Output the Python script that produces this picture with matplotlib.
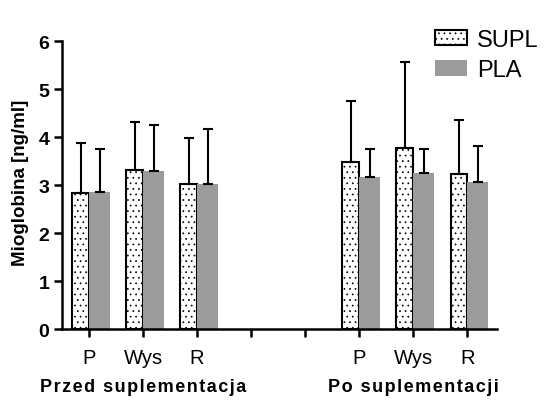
import matplotlib.pyplot as plt
import numpy as np

plt.rcParams['font.family'] = ['Liberation Sans', 'DejaVu Sans']
plt.rcParams['hatch.linewidth'] = 0.5

# category ticks (gap positions 3 and 4 are empty)
tick_labels = ['P', 'Wys', 'R', '', '', 'P', 'Wys', 'R']
positions = [0, 1, 2, 5, 6, 7]

supl_mean = [2.83, 3.31, 3.02, 3.47, 3.77, 3.23]
supl_err = [1.05, 1.00, 0.96, 1.27, 1.79, 1.13]
pla_mean = [2.86, 3.29, 3.02, 3.16, 3.25, 3.07]
pla_err = [0.89, 0.97, 1.15, 0.59, 0.50, 0.75]

groups = ['Przed suplementacja', 'Po suplementacji']
group_centers = [1, 6]


def spaced(s):
    # the reference uses loose letter spacing
    return '\u200a'.join(s)


fig = plt.figure(figsize=(5.47, 4.02), dpi=100)
ax = fig.add_axes([0.1133, 0.179, 0.7953, 0.7165])

x = np.array(positions, dtype=float)
w_s = 0.31
w_p = 0.39
ax.bar(x - w_s / 2, supl_mean, width=w_s, color='white', edgecolor='black',
       hatch='...', linewidth=1.5, label='SUPL', zorder=2)
ax.bar(x + w_p / 2, pla_mean, width=w_p, color='#9b9b9d', edgecolor='none',
       label='PLA', zorder=2)
ax.errorbar(x - w_s / 2, supl_mean, yerr=[np.zeros(len(x)), supl_err], fmt='none',
            ecolor='black', elinewidth=1.5, capsize=3.5, capthick=1.5, zorder=3)
ax.errorbar(x + w_p / 2, pla_mean, yerr=[np.zeros(len(x)), pla_err], fmt='none',
            ecolor='black', elinewidth=1.5, capsize=3.5, capthick=1.5, zorder=3)

ax.set_xlim(-0.5, 7.55)
ax.set_ylim(0, 6)
ax.set_xticks(range(len(tick_labels)))
ax.set_xticklabels(tick_labels, fontsize=14.5)
ax.set_yticks(range(7))
ax.set_yticklabels([str(i) for i in range(7)], fontsize=14, fontweight='bold')
ax.tick_params(axis='x', length=6, width=1.8, pad=8)
ax.tick_params(axis='y', length=6, width=1.8, pad=3)
for s in ['top', 'right']:
    ax.spines[s].set_visible(False)
for s in ['left', 'bottom']:
    ax.spines[s].set_linewidth(1.8)

ax.set_ylabel('Mioglobina [ng/ml]', fontsize=13.5, fontweight='bold')
ax.yaxis.set_label_coords(-0.076, 0.512)

for name, c in zip(groups, group_centers):
    ax.text(c, -0.215, spaced(name), transform=ax.get_xaxis_transform(),
            ha='center', va='baseline', fontsize=13, fontweight='bold')

fig.legend(loc='upper left', bbox_to_anchor=(0.795, 0.926), frameon=False, fontsize=17,
           handlelength=1.36, handleheight=0.64, labelspacing=0.35, handletextpad=0.42,
           borderpad=0, borderaxespad=0)

fig.savefig('out.png', dpi=100)
